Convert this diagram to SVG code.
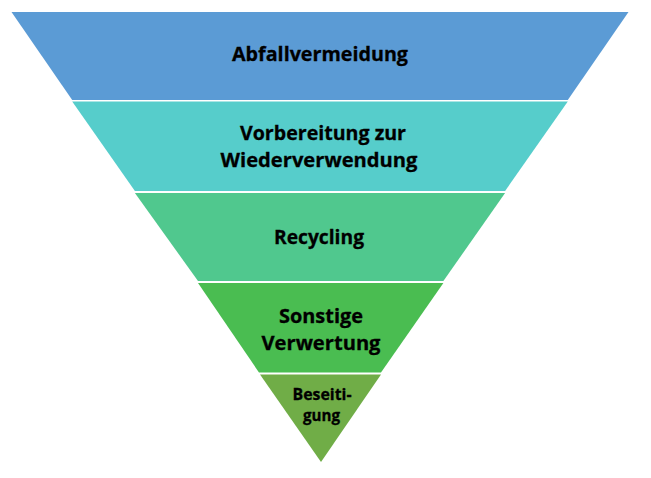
<svg xmlns="http://www.w3.org/2000/svg" width="651" height="478" viewBox="0 0 651 478">
  <style>
    .lbl { font-family: "Open Sans", "Noto Sans", "Liberation Sans", sans-serif; font-weight: 700; font-size: 20px; fill: #000; text-anchor: middle; stroke: #000; stroke-width: 0.3px; }
    .sm { font-size: 16px; }
  </style>
  <rect width="651" height="478" fill="#ffffff"/>
  <g id="band1">
    <polygon points="11.5,12 628.5,12 567.8,100 72.2,100" fill="#5B9BD5"/>
    <text class="lbl" x="320" y="61" textLength="176" lengthAdjust="spacingAndGlyphs">Abfallvermeidung</text>
  </g>
  <g id="band2">
    <polygon points="72.2,101.5 567.8,101.5 505.1,191 134.9,191" fill="#56CDCB"/>
    <text class="lbl" x="323" y="140" textLength="166" lengthAdjust="spacingAndGlyphs">Vorbereitung zur</text>
    <text class="lbl" x="319" y="167" textLength="197" lengthAdjust="spacingAndGlyphs">Wiederverwendung</text>
  </g>
  <g id="band3">
    <polygon points="134.9,193 505.1,193 443.4,281 198,281" fill="#50C88E"/>
    <text class="lbl" x="319" y="244" textLength="90" lengthAdjust="spacingAndGlyphs">Recycling</text>
  </g>
  <g id="band4">
    <polygon points="198,283 443.4,283 381,372.5 259,372.5" fill="#4ABD51"/>
    <text class="lbl" x="321" y="323" textLength="84" lengthAdjust="spacingAndGlyphs">Sonstige</text>
    <text class="lbl" x="321" y="350" textLength="119" lengthAdjust="spacingAndGlyphs">Verwertung</text>
  </g>
  <g id="band5">
    <polygon points="260,374.5 381,374.5 321,462" fill="#70AD47"/>
    <text class="lbl sm" x="322" y="400" textLength="59" lengthAdjust="spacingAndGlyphs">Beseiti-</text>
    <text class="lbl sm" x="321.5" y="421" textLength="37" lengthAdjust="spacingAndGlyphs">gung</text>
  </g>
  <g id="connectors"></g>
</svg>
